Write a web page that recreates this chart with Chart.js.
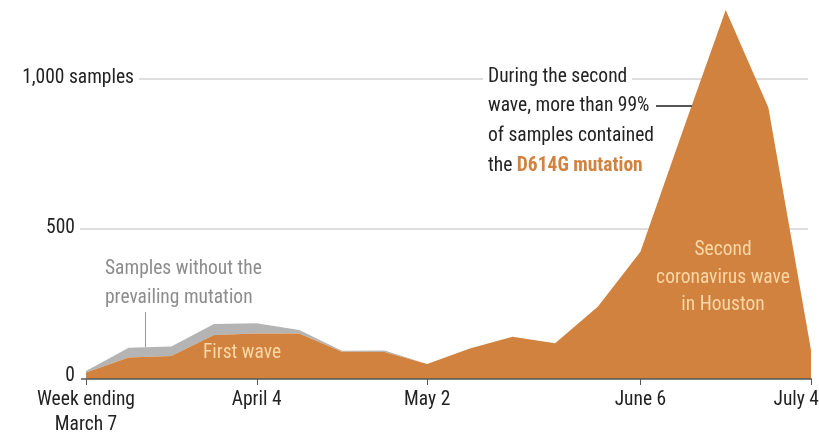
<!DOCTYPE html>
<html>
<head>
<meta charset="utf-8">
<script src="https://cdn.jsdelivr.net/npm/chart.js@4"></script>
<style>
  body { margin: 0; background: #fff; }
  #wrap { width: 819px; height: 435px; position: relative; }
</style>
</head>
<body>
<div id="wrap"><canvas id="c"></canvas></div>
<script>
const weeks = ['Mar 7', 'Mar 14', 'Mar 21', 'Mar 28', 'Apr 4', 'Apr 11', 'Apr 18', 'Apr 25',
  'May 2', 'May 9', 'May 16', 'May 23', 'May 30', 'Jun 6', 'Jun 13', 'Jun 20', 'Jun 27', 'Jul 4']
const withMutation = [22, 72, 77, 147, 152, 152, 91, 90, 50, 102, 141, 119, 241, 424, 830, 1230, 905, 97]
const withoutMutation = [5, 32, 31, 36, 34, 11, 3, 5, 0, 0, 0, 0, 0, 0, 0, 0, 0, 0]
const xTicks = [[0, ['Week ending', 'March 7']], [4, ['April 4']], [8, ['May 2']], [13, ['June 6']], [17, ['July 4']]]
const yTicks = [[0, '0'], [500, '500'], [1000, '1,000 samples']]

const FONT = '"Liberation Sans Narrow", "Roboto Condensed", "DejaVu Sans Condensed", Roboto, sans-serif'
const SIZE = '19.5px '
const ORANGE = '#d2823f'
const GREY = '#b4b4b4'
const PEACH = '#f9d7a6'

const decor = {
  id: 'decor',
  beforeDatasetsDraw(chart) {
    const ctx = chart.ctx
    const y = chart.scales.y
    ctx.save()
    ctx.strokeStyle = '#dedede'
    ctx.lineWidth = 2
    // gridlines, left end starts after the tick label
    const g500 = Math.round(y.getPixelForValue(500))
    ctx.beginPath(); ctx.moveTo(80, g500); ctx.lineTo(808, g500); ctx.stroke()
    const g1k = Math.round(y.getPixelForValue(1000))
    ctx.beginPath(); ctx.moveTo(139, g1k); ctx.lineTo(483, g1k)
    ctx.moveTo(632, g1k); ctx.lineTo(808, g1k); ctx.stroke()
    ctx.restore()
  },
  afterDatasetsDraw(chart) {
    const ctx = chart.ctx
    const x = chart.scales.x
    const y = chart.scales.y
    const y0 = y.getPixelForValue(0)
    ctx.save()

    // baseline + tick marks
    ctx.strokeStyle = '#555'
    ctx.lineWidth = 1.5
    ctx.beginPath(); ctx.moveTo(81, y0); ctx.lineTo(x.getPixelForValue(17) + 1, y0); ctx.stroke()
    ctx.lineWidth = 1
    xTicks.forEach(([i]) => {
      const px = Math.round(x.getPixelForValue(i)) + 0.5
      ctx.beginPath(); ctx.moveTo(px, y0); ctx.lineTo(px, y0 + 6); ctx.stroke()
    })

    // x labels
    ctx.font = SIZE + FONT
    ctx.fillStyle = '#222'
    ctx.textBaseline = 'middle'
    xTicks.forEach(([i, lines], k) => {
      const px = x.getPixelForValue(i)
      ctx.textAlign = k === xTicks.length - 1 ? 'right' : 'center'
      const ax = k === xTicks.length - 1 ? 819 : px
      lines.forEach((t, j) => ctx.fillText(t, ax, y0 + 21 + j * 25))
    })

    // y labels
    ctx.textAlign = 'right'
    yTicks.forEach(([v, t]) => {
      const py = y.getPixelForValue(v)
      ctx.fillText(t, v === 1000 ? 134 : 75, py - (v === 0 ? 3 : 1))
    })

    // annotation: second wave
    ctx.textAlign = 'left'
    ctx.fillStyle = '#222'
    ctx.fillText('During the second', 488, 77)
    ctx.fillText('wave, more than 99%', 488, 106)
    ctx.fillText('of samples contained', 488, 136)
    ctx.fillText('the ', 488, 166)
    const w = ctx.measureText('the ').width
    ctx.font = 'bold ' + SIZE + FONT
    ctx.fillStyle = ORANGE
    ctx.fillText('D614G mutation', 488 + w, 166)
    ctx.strokeStyle = '#555'
    ctx.lineWidth = 2
    ctx.beginPath(); ctx.moveTo(656, 106); ctx.lineTo(692, 106); ctx.stroke()

    // annotation: samples without
    ctx.font = SIZE + FONT
    ctx.fillStyle = '#8c8c8c'
    ctx.fillText('Samples without the', 105, 269)
    ctx.fillText('prevailing mutation', 105, 298)
    ctx.strokeStyle = '#999'
    ctx.lineWidth = 1
    ctx.beginPath(); ctx.moveTo(145.5, 312); ctx.lineTo(145.5, 347); ctx.stroke()

    // labels inside the area
    ctx.fillStyle = PEACH
    ctx.textAlign = 'center'
    ctx.fillText('First wave', 242, 353)
    ctx.fillText('Second', 723, 250)
    ctx.fillText('coronavirus wave', 723, 278)
    ctx.fillText('in Houston', 723, 305)
    ctx.restore()
  }
}

new Chart(document.getElementById('c'), {
  type: 'line',
  data: {
    labels: weeks,
    datasets: [
      { label: 'D614G', data: withMutation, backgroundColor: ORANGE, borderWidth: 0, fill: 'origin', pointRadius: 0, tension: 0 },
      { label: 'Other', data: withoutMutation, backgroundColor: GREY, borderWidth: 0, fill: '-1', pointRadius: 0, tension: 0 }
    ]
  },
  options: {
    responsive: true,
    maintainAspectRatio: false,
    animation: false,
    events: [],
    layout: { padding: { left: 86, right: 8, top: 1, bottom: 56 } },
    plugins: { legend: { display: false }, tooltip: { enabled: false } },
    scales: {
      x: { display: false },
      y: { display: false, stacked: true, min: 0, max: 1260 }
    }
  },
  plugins: [decor]
})
</script>
</body>
</html>
